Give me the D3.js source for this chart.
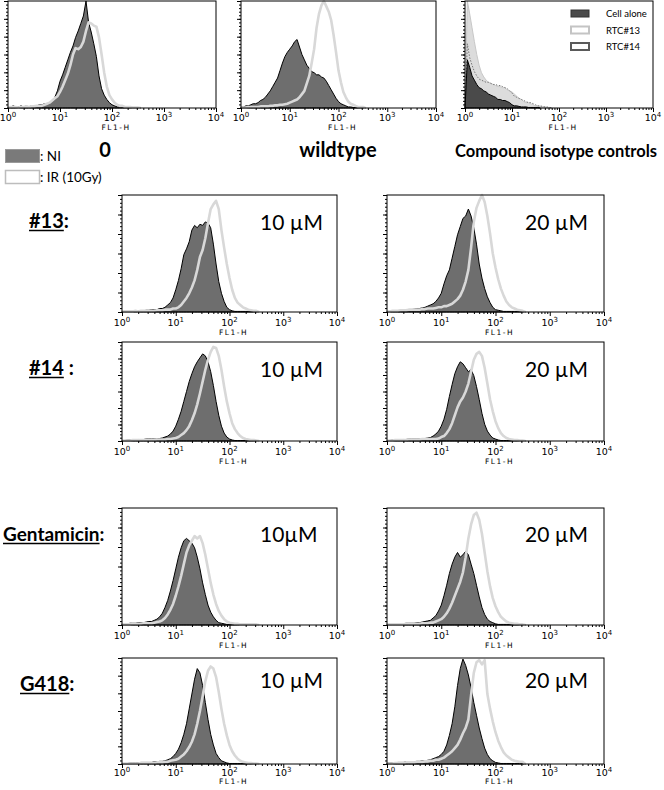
<!DOCTYPE html>
<html><head><meta charset="utf-8">
<script src="https://cdn.jsdelivr.net/npm/d3@7"></script>
<style>body{margin:0;background:#fff} svg{display:block}</style>
</head><body><svg id="c" width="664" height="790"></svg>
<script>
// ---------- DATA (histogram heights in % of max, bins every 0.05 decade from 10^0) ----------
const STEP = 0.05;
const decades = [0, 1, 2, 3, 4];
const axisLabel = "FL1-H";
const topTitles = ["0", "wildtype", "Compound isotype controls"];
const legendMain = [": NI", ": IR (10Gy)"];
const isoLegend = ["Cell alone", "RTC#13", "RTC#14"];
const rowLabels = ["#13", "#14", "Gentamicin", "G418"];
const rowSeps = [":", " :", ":", ":"];
const concLabels = [["10 µM", "20 µM"], ["10 µM", "20 µM"], ["10µM", "20 µM"], ["10 µM", "20 µM"]];

const zeroNI = [1,1,2,1,1,2,1,2,1,2, 2,2,3,3,4,4,5,7,10,16, 25,31,38,45,52,58,66,72,79,86, 100,80,71,60,48,30,18,12,8,5, 3,2,1,1,0.5,0.5,0.5,0.5,0.5,0.5,0.5];
const zeroIR = [0.5,1,1,1,0.5,1,1,1.5,1,1.5, 1.5,2,2,2,3,4,5,7,9,11, 15,20,26,32,40,50,56,55,57,62, 72,80,79,77,76,66,50,33,20,12, 8,5,3,2,2,1,1,1,0.5,0.5,0.5];
const wtNI = [1,1,2,2,3,4,4,5,7,8, 10,13,16,20,24,28,35,42,48,52, 55,58,62,64,57,50,45,40,37,34, 33,31,31,29,28,25,21,17,13,9, 6,4,3,2,1,1,0.5,0.5,0.5,0.5,0.5];
const wtIR = [0.5,0.5,0.5,1,1,1,1,1,1.5,1.5, 1.5,1.5,2,2,2.5,2.5,3,3,3.5,4, 5,6,7,8,10,13,16,23,30,42, 55,75,88,96,100,95,90,82,68,52, 35,24,15,10,6,4,3,2,1,1,1];
const isoCellAlone = [0,45,38,30,26,22,19,18,16,15, 13,12,11,10,8,8,7,7,6,5, 3,2,2,1.5,1,1,1,0.5,0.5,0.5, 0.5,0.5];
const isoRTC13 = [0,100,88,75,62,50,40,33,29,26, 24,23,22,21,20,20,19,19,17,16, 15,13,11,9,8,6,5,5,4,3, 2,2,1.5,1,1,0.5,0.5];
const isoRTC14 = [0,60,47,40,34,30,27,26,25,24, 24,23,22,22,21,21,20,19,18,16, 14,11,10,9,8,7,6,5,5,4, 3,2,2,1.5,1,1,0.5];

const c13_10NI = [0.5,0.5,0.5,1,1,0.5,1,1,1,1.5, 1.5,2,2,2,3,3,4,6,8,12, 19,27,37,49,54,60,70,74,72,75, 74,77,76,72,58,41,26,16,9,4, 2,1,0.5,0.5,0.5,0.5,0.5,0.5,0.5,0.5,0.5];
const c13_10IR = [0.5,0.5,0.5,0.5,0.5,1,0.5,1,1,1, 1,1,1,1.5,1.5,1.5,2,2,2,3, 3,4,6,9,12,16,21,27,36,47, 53,63,76,88,92,95,88,70,55,41, 29,19,12,8,6,4,3,2,1.5,1,1];
const c13_20NI = [0.5,0.5,1,1,1,1.5,1,2,2,2, 2.5,3,3,3.5,4,5,6,7,9,12, 16,24,31,36,46,56,66,73,80,82, 88,82,72,58,41,29,20,13,8,4, 2,1.5,1,0.5,0.5,0.5,0.5,0.5,0.5,0.5,0.5];
const c13_20IR = [0.5,0.5,1,1,1,1.5,1.5,1.5,2,2, 2,2,2,2.5,2.5,3,3,3,3.5,4, 4,5,5,6,7,9,11,14,19,26, 36,55,77,89,95,100,94,82,67,50, 38,28,20,14,9,6,4,3,2,1.5,1];
const c14_10NI = [0.5,0.5,1,1,1,1,1.5,1.5,1.5,2, 2,2,2,2,2.5,3,4,5,7,10, 15,22,30,40,50,60,68,75,80,84, 88,86,80,70,56,40,26,15,8,4, 2,1,0.5,0.5,0.5,0.5,0.5,0.5,0.5,0.5,0.5];
const c14_10IR = [0.5,0.5,0.5,0.5,1,1,1,1,1,1, 1,1,1,1.5,1.5,1.5,1.5,2,2,2.5, 3,4,6,8,11,15,21,28,37,48, 60,72,82,90,95,94,86,72,55,40, 28,18,12,8,5,3,2,1.5,1,1,0.5];
const c14_20NI = [0.5,0.5,1,1,1,1,1.5,1.5,2,2, 2,2,2,2.5,2.5,3,3.5,5,7,10, 15,22,32,45,57,68,75,80,78,74, 70,72,66,55,42,28,17,10,6,3, 2,1,0.5,0.5,0.5,0.5,0.5,0.5,0.5,0.5,0.5];
const c14_20IR = [0.5,0.5,0.5,1,1,1,1,1,1.5,1.5, 1.5,1.5,1.5,2,2,2,2,2,2,2.5, 4,5,8,12,18,26,34,40,44,50, 58,70,82,88,90,86,74,58,42,30, 20,13,8,5,3,2,1.5,1,1,0.5,0.5];
const gen10NI = [1,1,1,1.5,1.5,1.5,2,2,2,2.5, 3,3,4,5,7,10,15,21,29,38, 48,58,66,72,74,72,70,66,58,48, 36,26,17,11,7,4,2,1.5,1,0.5, 0.5,0.5,0.5,0.5,0.5,0.5,0.5,0.5,0.5,0.5,0.5];
const gen10IR = [0.5,0.5,0.5,0.5,1,1,1,1,1.5,1.5, 1.5,1.5,2,2.5,3,4,6,9,13,18, 25,33,42,52,62,68,72,76,74,76, 70,60,48,36,26,18,12,8,5,3, 2,1.5,1,1,0.5,0.5,0.5,0.5,0.5,0.5,0.5];
const gen20NI = [0.5,0.5,0.5,1,1,1,1,1.5,1.5,1.5, 1.5,2,2,2.5,3,3.5,4,6,8,12, 17,25,34,44,52,58,62,58,60,63, 60,52,44,34,24,15,9,5,3,2, 1,0.5,0.5,0.5,0.5,0.5,0.5,0.5,0.5,0.5,0.5];
const gen20IR = [0.5,0.5,0.5,0.5,0.5,0.5,0.5,1,1,1, 1,1,1,1.5,1.5,1.5,2,2,3,4, 5,7,10,14,19,25,31,37,45,58, 74,86,94,96,90,78,62,46,33,23, 16,11,7,5,3,2,1.5,1,1,0.5,0.5];
const g418_10NI = [0.5,0.5,0.5,1,1,1,1,1.5,1.5,1.5, 1.5,1.5,2,2,2.5,2.5,3,4,5,7, 10,14,20,28,38,52,66,80,90,86, 74,58,42,28,18,10,6,3,2,1, 0.5,0.5,0.5,0.5,0.5,0.5,0.5,0.5,0.5,0.5,0.5];
const g418_10IR = [0.5,0.5,0.5,0.5,0.5,0.5,0.5,1,1,1, 1,1,1,1.5,1.5,1.5,2,2,3,3.5, 4,5,7,9,12,16,21,28,38,50, 64,78,88,92,90,82,68,52,38,27, 18,12,8,5,3,2,1.5,1,1,0.5,0.5];
const g418_20NI = [1,1,1,1,1.5,1.5,1.5,2,2,2, 2,2.5,2.5,3,3,3.5,4,5,6,7, 9,12,18,27,38,54,74,90,99,93, 84,72,58,46,34,24,15,9,5,3, 1.5,1,0.5,0.5,0.5,0.5,0.5,0.5,0.5,0.5,0.5];
const g418_20IR = [0.5,0.5,0.5,1,1,1,1,1.5,1.5,1.5, 1.5,2,2,2,2.5,2.5,3,3,4,4, 5,6,8,10,12,15,18,23,29,34, 42,65,86,96,98,94,98,66,52,40, 30,22,16,11,8,6,4,3,2.5,2,2];

const gridNI = [[c13_10NI, c13_20NI], [c14_10NI, c14_20NI], [gen10NI, gen20NI], [g418_10NI, g418_20NI]];
const gridIR = [[c13_10IR, c13_20IR], [c14_10IR, c14_20IR], [gen10IR, gen20IR], [g418_10IR, g418_20IR]];

// ---------- LAYOUT ----------
const topBoxes = [{x0:8,x1:216,y0:1,y1:108},{x0:241,x1:436,y0:1,y1:108},{x0:465,x1:653,y0:1,y1:108}];
const colX = [[122,337],[387,604]];
const rowY = [[195,312],[342,441],[508,625],[658,764]];
const concDY = [35, 35, 34, 30];

const C_NI = "#6e6e6e", C_IR = "#d8d8d8";
const svg = d3.select("#c");
const FONT = "Lato, 'Open Sans', sans-serif";
const AXFONT = "'DejaVu Sans', sans-serif";

function drawPanel(b, layers, tickDY, labDY) {
  const g = svg.append("g");
  const x = d3.scaleLog().domain([1, 1e4]).range([b.x0, b.x1]);
  const y = d3.scaleLinear().domain([0, 100]).range([b.y1, b.y0]);
  const pts = vals => { const p = vals.map((v, i) => [Math.pow(10, i * STEP), v]); p.push([Math.pow(10, vals.length * STEP), 0]); return p; };
  const area = d3.area().x(d => x(d[0])).y0(y(0)).y1(d => y(d[1]));
  const line = d3.line().x(d => x(d[0])).y(d => y(d[1]));
  layers.forEach(L => {
    const p = pts(L.vals);
    if (L.type === "ni") {
      g.append("path").attr("d", area(p)).attr("fill", C_NI).attr("stroke", "#000").attr("stroke-width", 1).attr("stroke-linejoin", "round");
    } else if (L.type === "ir") {
      g.append("path").attr("d", line(p)).attr("fill", "none").attr("stroke", C_IR).attr("stroke-width", 2.6).attr("stroke-linejoin", "round");
    } else if (L.type === "light") {
      g.append("path").attr("d", area(p)).attr("fill", "#dcdcdc").attr("stroke", "#c8c8c8").attr("stroke-width", 1);
    } else if (L.type === "dot") {
      g.append("path").attr("d", line(p)).attr("fill", "none").attr("stroke", "#777").attr("stroke-width", 1).attr("stroke-dasharray", "1.5,1.5");
    } else if (L.type === "dark") {
      g.append("path").attr("d", area(p)).attr("fill", "#4a4a4a").attr("stroke", "#000").attr("stroke-width", 1);
    }
  });
  g.append("rect").attr("x", b.x0).attr("y", b.y0).attr("width", b.x1 - b.x0).attr("height", b.y1 - b.y0)
    .attr("fill", "none").attr("stroke", "#000").attr("stroke-width", 1);
  const minor = [];
  for (let d = 0; d < 4; d++) for (let k = 2; k <= 9; k++) minor.push(k * Math.pow(10, d));
  const strip = s => s.select(".domain").remove();
  g.append("g").attr("transform", `translate(0,${b.y1})`)
    .call(d3.axisBottom(x).tickValues(minor).tickSize(2).tickFormat("")).call(strip);
  g.append("g").attr("transform", `translate(0,${b.y1})`)
    .call(d3.axisBottom(x).tickValues(decades.map(e => Math.pow(10, e))).tickSize(4).tickFormat("")).call(strip);
  const yt = d3.range(31).map(i => i * 100 / 30);
  g.append("g").attr("transform", `translate(${b.x0},0)`)
    .call(d3.axisLeft(y).tickValues(yt).tickSize(2).tickFormat("")).call(strip);
  g.append("g").attr("transform", `translate(${b.x0},0)`)
    .call(d3.axisLeft(y).tickValues(yt.filter((v, i) => i % 5 === 0)).tickSize(4).tickFormat("")).call(strip);
  g.selectAll(".tick line").attr("stroke", "#000");
  decades.forEach(e => {
    const t = g.append("text").attr("x", x(Math.pow(10, e))).attr("y", b.y1 + tickDY)
      .attr("text-anchor", "middle").attr("font-family", AXFONT).attr("font-size", 9.5).attr("fill", "#000");
    t.append("tspan").text("10");
    t.append("tspan").attr("dy", -4).attr("font-size", 7).text(String(e));
  });
  g.append("text").attr("x", (b.x0 + b.x1) / 2 + 4).attr("y", b.y1 + labDY).attr("text-anchor", "middle")
    .attr("font-family", AXFONT).attr("font-size", 7.5).attr("letter-spacing", 1.5).text(axisLabel);
  return {x, y};
}

// ---------- TOP ROW ----------
drawPanel(topBoxes[0], [{type: "ni", vals: zeroNI}, {type: "ir", vals: zeroIR}], 13, 22);
drawPanel(topBoxes[1], [{type: "ni", vals: wtNI}, {type: "ir", vals: wtIR}], 13, 22);
drawPanel(topBoxes[2], [{type: "light", vals: isoRTC13}, {type: "dot", vals: isoRTC14}, {type: "dark", vals: isoCellAlone}], 13, 22);

const isoStyles = [{fill: "#4a4a4a", stroke: "#333", sw: 1}, {fill: "#fff", stroke: "#c4c4c4", sw: 2}, {fill: "#fff", stroke: "#5a5a5a", sw: 2}];
isoLegend.forEach((t, i) => {
  const yy = 10 + i * 16.5;
  svg.append("rect").attr("x", 571).attr("y", yy).attr("width", 18).attr("height", 7)
    .attr("fill", isoStyles[i].fill).attr("stroke", isoStyles[i].stroke).attr("stroke-width", isoStyles[i].sw);
  svg.append("text").attr("x", 606).attr("y", yy + 7).attr("font-family", FONT).attr("font-size", 9.5).text(t);
});

[[105, 157, 20], [338, 157, 20], [556, 157, 16.5]].forEach((p, i) => {
  svg.append("text").attr("x", p[0]).attr("y", p[1]).attr("text-anchor", "middle")
    .attr("font-family", FONT).attr("font-weight", 700).attr("font-size", p[2]).text(topTitles[i]);
});

svg.append("rect").attr("x", 5.5).attr("y", 149.5).attr("width", 34).attr("height", 13).attr("fill", "#7a7a7a").attr("stroke", "#9a9a9a");
svg.append("rect").attr("x", 5.5).attr("y", 170.5).attr("width", 34).attr("height", 13).attr("fill", "#fff").attr("stroke", "#bdbdbd").attr("stroke-width", 1.5);
svg.append("text").attr("x", 40).attr("y", 161).attr("font-family", FONT).attr("font-size", 13.5).text(legendMain[0]);
svg.append("text").attr("x", 40).attr("y", 182).attr("font-family", FONT).attr("font-size", 13.5).text(legendMain[1]);

// ---------- GRID ----------
const labelX = [29, 29, 3, 20];
const labelSize = [20, 20, 19, 20];
rowY.forEach((ry, r) => {
  const last = r === rowY.length - 1;
  colX.forEach((cx, c) => {
    drawPanel({x0: cx[0], x1: cx[1], y0: ry[0], y1: ry[1]}, [{type: "ni", vals: gridNI[r][c]}, {type: "ir", vals: gridIR[r][c]}], last ? 12 : 14, last ? 20 : 23);
    svg.append("text").attr("x", cx[0] + 138).attr("y", ry[0] + concDY[r]).attr("font-family", FONT).attr("font-size", 21).text(concLabels[r][c]);
  });
  const t = svg.append("text").attr("x", labelX[r]).attr("y", ry[0] + 33).attr("font-family", FONT).attr("font-weight", 700).attr("font-size", labelSize[r]);
  const main = t.append("tspan").text(rowLabels[r]);
  t.append("tspan").text(rowSeps[r]);
  const w = main.node().getComputedTextLength();
  svg.append("line").attr("x1", labelX[r]).attr("x2", labelX[r] + w).attr("y1", ry[0] + 35.5).attr("y2", ry[0] + 35.5).attr("stroke", "#000").attr("stroke-width", 1.5);
});
</script>
</body></html>
